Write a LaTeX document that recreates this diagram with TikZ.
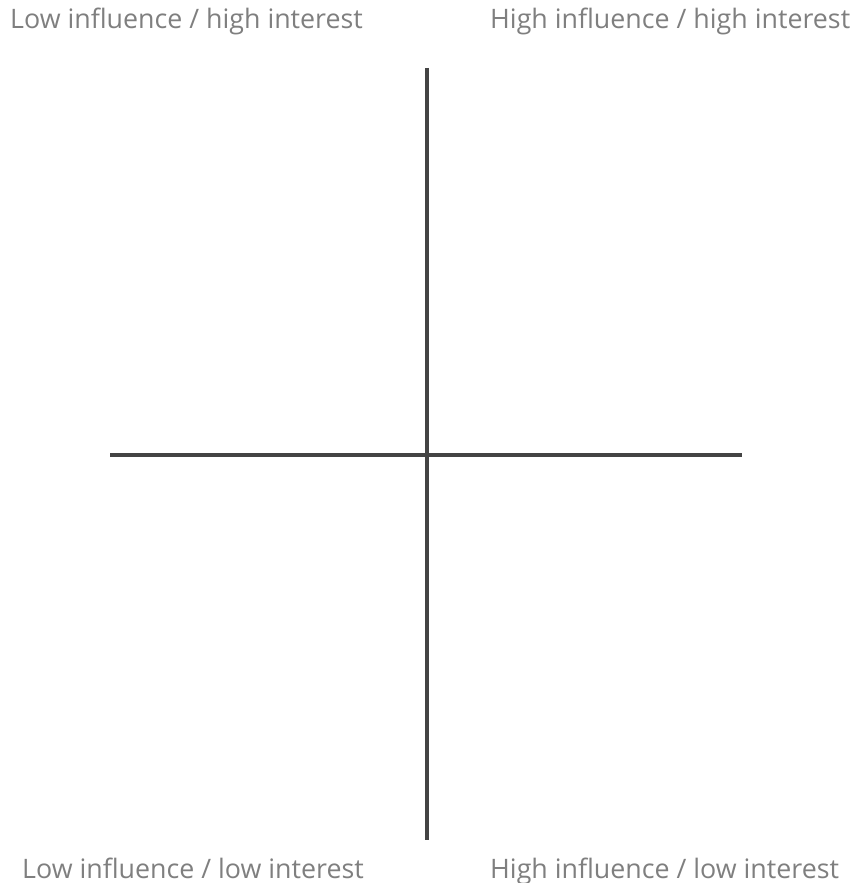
\documentclass[tikz,border=0pt]{standalone}
\usepackage{fontspec}
\setmainfont{Open Sans}
\definecolor{axis}{HTML}{444444}
\definecolor{lbl}{HTML}{7F7F7F}
\begin{document}
\begin{tikzpicture}[x=1pt,y=-1pt,
  axisline/.style={draw=axis,line width=3.2pt},
  lbltext/.style={text=lbl,font=\fontsize{26.8}{32}\selectfont,inner sep=0pt}]
\useasboundingbox (0,0) rectangle (855,883);
\coordinate (vt) at (427,68);
\coordinate (vb) at (427,840);
\coordinate (hl) at (110,455);
\coordinate (hr) at (742,455);
\draw[axisline] (vt) -- (vb);
\draw[axisline] (hl) -- (hr);
\node[lbltext,anchor=base west] (tl) at (10,29) {Low influence / high interest};
\node[lbltext,anchor=base west] (tr) at (490,29) {High influence / high interest};
\node[lbltext,anchor=base west] (bl) at (22,878) {Low influence / low interest};
\node[lbltext,anchor=base west] (br) at (490,878) {High influence / low interest};
\end{tikzpicture}
\end{document}
